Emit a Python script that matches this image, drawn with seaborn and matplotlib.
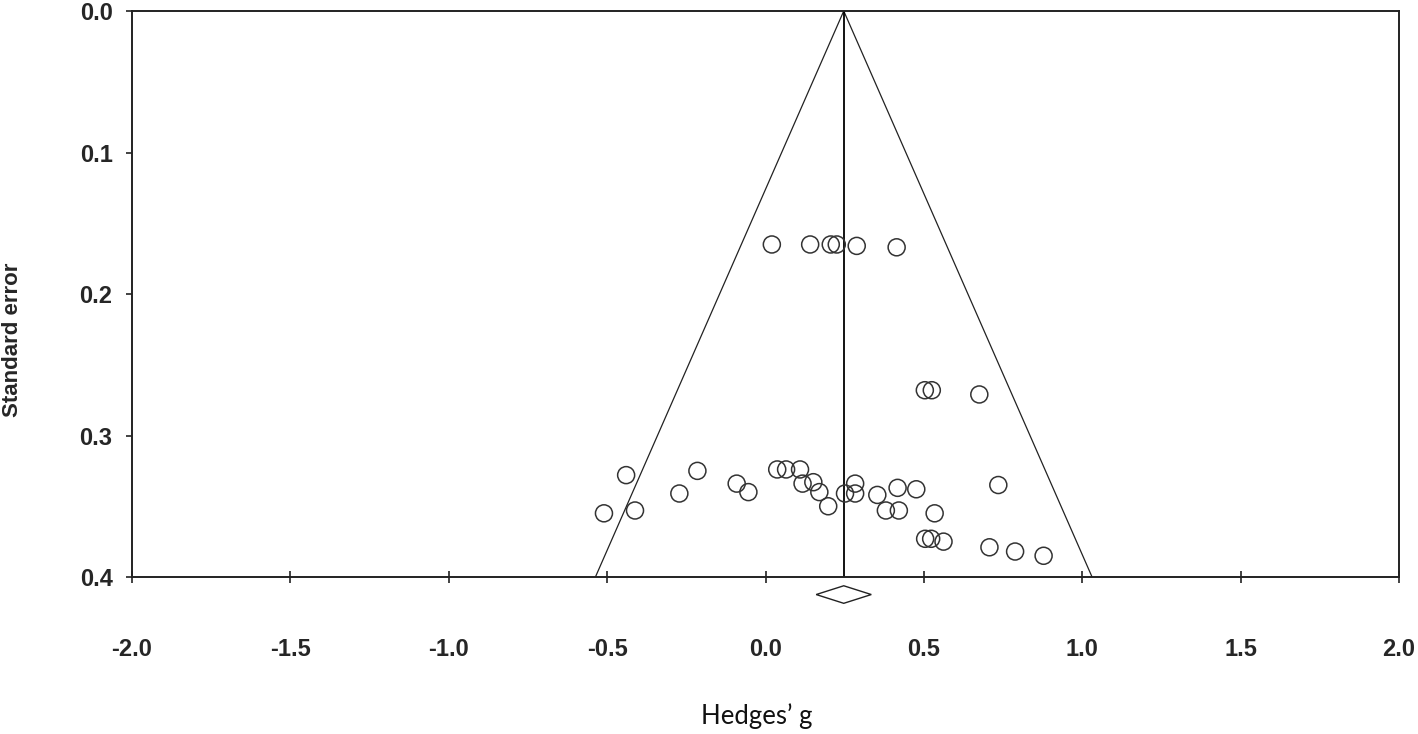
import numpy as np
import pandas as pd
import seaborn as sns
import matplotlib.pyplot as plt

# ---------------------------------------------------------
# Funnel plot data (Hedges' g vs standard error)
# ---------------------------------------------------------
hedges_g = [
    0.020, 0.141, 0.206, 0.225, 0.288, 0.414,
    0.503, 0.525, 0.675,
    -0.440, -0.510, -0.412, -0.272, -0.215, -0.091, -0.054,
    0.037, 0.065, 0.109, 0.117, 0.151, 0.170, 0.198, 0.251,
    0.283, 0.283, 0.353, 0.417, 0.476, 0.380, 0.421, 0.534,
    0.504, 0.523, 0.562, 0.735, 0.707, 0.788, 0.878,
]
std_err = [
    0.165, 0.165, 0.165, 0.165, 0.166, 0.167,
    0.268, 0.268, 0.271,
    0.328, 0.355, 0.353, 0.341, 0.325, 0.334, 0.340,
    0.324, 0.324, 0.324, 0.334, 0.333, 0.340, 0.350, 0.341,
    0.334, 0.341, 0.342, 0.337, 0.338, 0.353, 0.353, 0.355,
    0.373, 0.373, 0.375, 0.335, 0.379, 0.382, 0.385,
]
pooled_g = 0.247
pooled_ci = 0.087
se_max = 0.4

x_ticks = [-2.0, -1.5, -1.0, -0.5, 0.0, 0.5, 1.0, 1.5, 2.0]
y_ticks = [0.0, 0.1, 0.2, 0.3, 0.4]

df = pd.DataFrame({'g': hedges_g, 'se': std_err})

sns.set_theme(style="white")
plt.rcParams['font.family'] = ['Liberation Sans', 'DejaVu Sans']

fig = plt.figure(figsize=(14.18, 7.34), dpi=100)
ax = fig.add_axes([0.0931, 0.2139, 0.8935, 0.7711])

# funnel (pseudo 95% limits) and pooled estimate line
se_line = np.array([0.0, se_max])
funnel = pd.DataFrame({
    'se': np.concatenate([se_line, se_line]),
    'g': np.concatenate([pooled_g - 1.96 * se_line, pooled_g + 1.96 * se_line]),
    'side': ['lo', 'lo', 'hi', 'hi'],
})
for side, sub in funnel.groupby('side'):
    ax.plot(sub['g'], sub['se'], color='#222222', linewidth=0.9)
ax.plot([pooled_g, pooled_g], [0, se_max], color='black', linewidth=1.3)

sns.scatterplot(data=df, x='g', y='se', ax=ax, marker='o', s=150,
                facecolor='none', edgecolor='#333333', linewidth=1.1,
                zorder=3)

# pooled effect diamond below the axis
dy = 0.0062
yd = 0.4124
ax.fill([pooled_g - pooled_ci, pooled_g, pooled_g + pooled_ci, pooled_g],
        [yd, yd - dy, yd, yd + dy], facecolor='white', edgecolor='#222222',
        linewidth=1.0, clip_on=False, zorder=4)

ax.set_xlim(-2.0, 2.0)
ax.set_ylim(0.4, 0.0)
ax.set_xticks(x_ticks)
ax.set_yticks(y_ticks)
ax.set_xticklabels([f"{v:.1f}" for v in x_ticks], fontsize=17, fontweight='bold')
ax.set_yticklabels([f"{v:.1f}" for v in y_ticks], fontsize=17, fontweight='bold')
ax.tick_params(axis='x', direction='inout', length=8, width=1.2, color='#222222',
               pad=40, bottom=True)
ax.tick_params(axis='y', direction='out', length=4, width=1.2, color='#222222',
               pad=10, left=True)
ax.set_xlabel('')
ax.set_ylabel('')

for sp in ax.spines.values():
    sp.set_color('#222222')
    sp.set_linewidth(1.4)

fig.text(0.009, 0.537, 'Standard error', rotation=90, fontsize=16,
         fontweight='bold', ha='center', va='center')
fig.text(0.534, 0.025, 'Hedges\u2019 g', fontsize=18.5, ha='center', va='center',
         family=['Lato', 'DejaVu Sans'], color='#111111')

fig.savefig('out.png', dpi=100, facecolor='white')
